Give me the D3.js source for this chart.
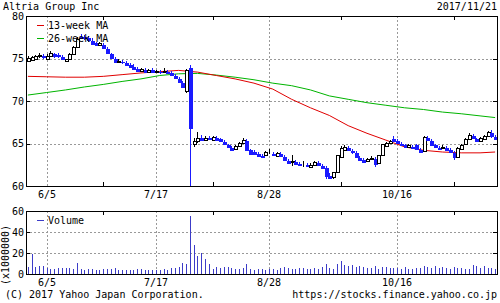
<!DOCTYPE html>
<html>
<head>
<meta charset="utf-8">
<script src="https://cdn.jsdelivr.net/npm/d3@7"></script>
<style>
  body { margin: 0; background: #fff; }
  svg { display: block; }
  text { font-family: "DejaVu Sans Mono", monospace; font-size: 10px; fill: #000; }
</style>
</head>
<body>
<div id="chart"></div>
<script>
// Altria Group Inc - daily candles with 13/26 week MA and volume

var dates = ["5/26","5/30","5/31","6/1","6/2",
  "6/5","6/6","6/7","6/8","6/9","6/12","6/13","6/14","6/15","6/16","6/19","6/20","6/21","6/22","6/23","6/26","6/27","6/28","6/29","6/30",
  "7/3","7/5","7/6","7/7","7/10","7/11","7/12","7/13","7/14","7/17","7/18","7/19","7/20","7/21","7/24","7/25","7/26","7/27","7/28","7/31",
  "8/1","8/2","8/3","8/4","8/7","8/8","8/9","8/10","8/11","8/14","8/15","8/16","8/17","8/18","8/21","8/22","8/23","8/24","8/25","8/28","8/29","8/30","8/31",
  "9/1","9/5","9/6","9/7","9/8","9/11","9/12","9/13","9/14","9/15","9/18","9/19","9/20","9/21","9/22","9/25","9/26","9/27","9/28","9/29",
  "10/2","10/3","10/4","10/5","10/6","10/9","10/10","10/11","10/12","10/13","10/16","10/17","10/18","10/19","10/20","10/23","10/24","10/25","10/26","10/27","10/30","10/31",
  "11/1","11/2","11/3","11/6","11/7","11/8","11/9","11/10","11/13","11/14","11/15","11/16","11/17","11/20","11/21"];

var opens = [74.8,74.9,75.0,75.3,75.4, 75.0,75.3,75.6,75.5,75.3,74.7,74.9,75.5,76.4,77.7,77.6,77.5,77.2,76.9,76.6,76.7,76.2,75.6,75.1,74.6,
  74.7,74.6,74.4,74.1,73.9,73.6,73.8,73.5,73.8,73.4,73.5,73.4,73.5,73.4,73.1,72.7,72.2,71.1,74.0,65.0,
  65.3,65.8,65.5,65.8,65.5,65.8,65.6,65.3,64.9,64.6,64.3,64.7,65.1,65.4,64.3,64.1,63.9,63.7,63.6,64.0,63.9,63.6,63.9,
  63.5,63.1,62.9,63.0,62.7,62.6,62.6,62.3,62.4,62.8,62.5,62.2,61.3,61.0,61.6,63.4,64.3,64.6,64.2,64.0,
  63.4,63.2,63.0,63.2,63.3,62.7,63.6,64.8,65.1,65.7,65.4,65.1,64.9,64.6,64.7,64.9,64.4,64.2,65.8,65.4,64.9,64.6,
  64.5,64.6,64.4,64.0,63.5,64.3,64.9,65.5,66.0,65.6,65.4,65.6,65.9,66.3,65.9];
var highs = [75.3,75.3,75.4,75.6,75.5, 75.5,75.9,75.7,75.6,75.4,75.0,75.7,76.5,77.5,77.9,77.8,77.7,77.4,77.0,76.9,76.8,76.3,75.7,75.2,74.9,
  74.8,74.7,74.5,74.3,74.0,73.9,73.9,73.8,73.9,73.7,73.6,73.9,73.6,73.5,73.2,72.8,72.3,73.8,74.2,65.6,
  66.4,66.0,65.9,65.9,65.9,65.9,65.7,65.4,65.0,64.7,64.8,65.2,65.6,65.5,64.4,64.2,64.0,63.8,64.1,64.3,64.0,64.0,64.0,
  63.6,63.2,63.6,63.1,62.8,62.9,62.7,62.7,62.9,62.9,62.6,62.3,61.5,61.7,63.7,64.7,64.8,64.7,64.4,64.1,
  63.5,63.3,63.3,63.5,63.4,63.7,65.0,65.2,65.4,65.9,65.5,65.2,65.0,64.9,64.8,65.0,64.5,65.9,65.9,65.5,65.0,64.7,
  64.8,64.7,64.5,64.1,64.6,64.9,65.6,66.2,66.1,65.7,65.8,66.0,66.5,66.6,66.0];
var lows = [74.6,74.7,74.9,75.1,75.0, 74.9,75.2,75.1,75.1,74.9,74.6,74.8,75.4,76.3,77.3,77.2,77.0,76.6,76.5,76.5,76.1,75.5,74.9,74.5,74.5,
  74.4,74.2,73.9,73.7,73.5,73.5,73.4,73.4,73.4,73.3,73.2,73.3,73.2,73.0,72.6,72.1,71.5,71.0,60.0,64.6,
  65.1,65.4,65.4,65.4,65.4,65.4,65.2,64.8,64.5,64.2,64.2,64.6,65.0,64.1,63.6,63.7,63.5,63.4,63.5,63.8,63.6,63.5,63.4,
  62.9,62.7,62.4,62.5,62.4,62.2,62.3,62.2,62.3,62.4,62.1,60.8,60.9,60.8,61.5,63.3,64.1,64.1,63.8,63.3,
  63.0,62.8,62.9,63.1,62.2,62.6,63.5,64.6,64.9,65.3,65.0,64.8,64.5,64.5,64.4,64.2,63.9,64.1,65.3,64.7,64.5,64.3,
  64.3,64.2,63.9,63.1,63.4,64.2,64.8,65.4,65.5,65.2,65.3,65.5,65.8,65.7,65.5];
var closes = [75.1,75.2,75.3,75.4,75.2, 75.3,75.7,75.2,75.3,75.0,74.9,75.5,76.3,77.3,77.5,77.4,77.2,76.7,76.6,76.8,76.2,75.6,75.0,74.6,74.7,
  74.6,74.3,74.0,73.8,73.6,73.8,73.5,73.7,73.5,73.5,73.4,73.5,73.3,73.1,72.7,72.2,71.6,73.6,66.8,65.3,
  65.6,65.5,65.7,65.6,65.8,65.5,65.3,64.9,64.6,64.3,64.7,65.1,65.4,64.2,63.7,63.8,63.6,63.5,64.0,64.0,63.7,63.9,63.5,
  63.0,62.8,63.0,62.6,62.5,62.6,62.4,62.5,62.8,62.5,62.2,61.2,61.0,61.6,63.6,64.5,64.6,64.2,64.0,63.4,
  63.1,62.9,63.2,63.3,62.6,63.6,64.9,65.1,65.3,65.4,65.1,64.9,64.6,64.8,64.5,64.3,64.1,65.8,65.4,64.8,64.6,64.4,
  64.6,64.3,64.0,63.4,64.5,64.8,65.5,66.0,65.6,65.3,65.7,65.9,66.4,65.8,65.6];
// volume in millions of shares
var volumes = [6.5,19,6.5,8,7.5, 5.5,5,5,5.5,5.5,5.5,6,5,10.5,4.5,4,4.5,4.5,4,4,5,4.5,5,5.5,3.5,
  3.5,4,4,4,5,4.5,4,4,3.5,4,4,4.5,4,5.5,6,6.5,10.5,10,55,27.5,
  17.5,20,14,9.5,5,6.5,5.5,6.5,7,6,5,4.5,6,10,5,4,4.5,5,3.5,4.5,5,4,5.5,
  6.5,6,5,4.5,5.5,6,5,4.5,5.5,4.5,7,9.5,5.5,5,10,12.5,9,8,8.5,6.5,
  7.5,6.5,5.5,6,7.5,5,6.5,7,5.5,6,5.5,5,6.5,5,4.5,5.5,6,8,6.5,6,7.5,6,
  6.5,5.5,5,7,6,5.5,4.5,5,9,7.5,5.5,8,5.5,6,4.5];

// moving averages, read once a week
var maDates = ["5/26","6/5","6/12","6/19","6/26","7/3","7/11","7/18","7/25","8/1","8/8","8/15","8/22","8/29","9/6","9/13","9/20","9/27","10/4","10/11","10/18","10/25","11/1","11/8","11/15","11/21"];
var ma13 = [72.9,72.85,72.8,72.8,72.9,73.1,73.3,73.45,73.6,73.4,73.0,72.6,72.1,71.4,70.2,69.2,68.3,67.1,66.2,65.4,64.6,64.2,64.0,63.9,63.9,64.0];
var ma26 = [70.7,71.0,71.3,71.65,71.95,72.3,72.6,73.0,73.2,73.25,73.05,72.8,72.5,72.1,71.8,71.3,70.6,70.2,69.8,69.5,69.2,69.0,68.7,68.5,68.25,68.05];

var priceTicks = [80, 75, 70, 65, 60];
var volTicks = [60, 40, 20, 0];
var labelDates = ["6/5", "7/17", "8/28", "10/16"];
var minorDates = ["6/26", "8/7", "9/25", "11/6"];

var W = 500, H = 303;
var left = 26, right = 497;
var pTop = 16, pBot = 186, vTop = 211, vBot = 274;
var upColor = "#000", downColor = "#1a1aff", volColor = "#3c3cc8";

var svg = d3.select("#chart").append("svg")
  .attr("width", W).attr("height", H)
  .attr("shape-rendering", "crispEdges");

var x = d3.scaleBand().domain(dates).range([left, right]).padding(0);
var cx = function (d) { return Math.round(x(d) + x.bandwidth() / 2); };
var yP = d3.scaleLinear().domain([60, 80]).range([pBot, pTop]);
var yV = d3.scaleLinear().domain([0, 60]).range([vBot, vTop]);

// titles
svg.append("text").attr("x", 3).attr("y", 10).text("Altria Group Inc");
svg.append("text").attr("x", 497).attr("y", 10).attr("text-anchor", "end").text("2017/11/21");

function panel(y, top, bot, ticks) {
  var g = svg.append("g");
  // horizontal dotted grid
  g.selectAll(".hg").data(ticks.filter(function (t) { return y(t) > top + 1 && y(t) < bot - 1; }))
    .enter().append("line")
    .attr("x1", left).attr("x2", right)
    .attr("y1", function (d) { return Math.round(y(d)) + 0.5; })
    .attr("y2", function (d) { return Math.round(y(d)) + 0.5; })
    .attr("stroke", "#999").attr("stroke-dasharray", "2,2");
  // vertical dotted grid at labelled dates
  g.selectAll(".vg").data(labelDates).enter().append("line")
    .attr("x1", function (d) { return cx(d) + 0.5; })
    .attr("x2", function (d) { return cx(d) + 0.5; })
    .attr("y1", top).attr("y2", bot)
    .attr("stroke", "#999").attr("stroke-dasharray", "2,2");
  // minor ticks top and bottom
  minorDates.forEach(function (d) {
    g.append("line").attr("x1", cx(d) + 0.5).attr("x2", cx(d) + 0.5)
      .attr("y1", top).attr("y2", top + 4).attr("stroke", "#000");
    g.append("line").attr("x1", cx(d) + 0.5).attr("x2", cx(d) + 0.5)
      .attr("y1", bot - 4).attr("y2", bot).attr("stroke", "#000");
  });
  // y ticks on both sides
  ticks.forEach(function (t) {
    var yy = Math.round(y(t)) + 0.5;
    g.append("line").attr("x1", left).attr("x2", left + 4).attr("y1", yy).attr("y2", yy).attr("stroke", "#000");
    g.append("line").attr("x1", right - 4).attr("x2", right).attr("y1", yy).attr("y2", yy).attr("stroke", "#000");
    g.append("text").attr("x", 24).attr("y", y(t) + 3.5).attr("text-anchor", "end").text(t);
  });
  // x labels under the panel
  g.selectAll(".xl").data(labelDates).enter().append("text")
    .attr("x", function (d) { return cx(d); })
    .attr("y", bot + 12)
    .attr("text-anchor", "middle")
    .text(function (d) { return d; });
  return g;
}

panel(yP, pTop, pBot, priceTicks);
panel(yV, vTop, vBot, volTicks);

// moving averages
var maLine = function (vals) {
  return d3.line()
    .x(function (d, i) { return x(maDates[i]) + x.bandwidth() / 2; })
    .y(function (d) { return yP(d); })(vals);
};
var maG = svg.append("g").attr("shape-rendering", "auto");
maG.append("path").attr("d", maLine(ma26)).attr("fill", "none").attr("stroke", "#00b400").attr("stroke-width", 1);
maG.append("path").attr("d", maLine(ma13)).attr("fill", "none").attr("stroke", "#e00000").attr("stroke-width", 1);

// candles
var candles = svg.append("g").selectAll("g").data(dates).enter().append("g");
candles.append("line")
  .attr("x1", function (d) { return cx(d) + 0.5; })
  .attr("x2", function (d) { return cx(d) + 0.5; })
  .attr("y1", function (d, i) { return yP(highs[i]); })
  .attr("y2", function (d, i) { return yP(lows[i]); })
  .attr("stroke", function (d, i) { return closes[i] >= opens[i] ? upColor : downColor; });
candles.append("rect")
  .attr("x", function (d, i) { return closes[i] >= opens[i] ? cx(d) - 1 + 0.5 : cx(d) - 1; })
  .attr("width", function (d, i) { return closes[i] >= opens[i] ? 3 : 4; })
  .attr("y", function (d, i) { return Math.round(yP(Math.max(opens[i], closes[i]))) + 0.5; })
  .attr("height", function (d, i) { return Math.max(0, Math.round(Math.abs(yP(opens[i]) - yP(closes[i])))); })
  .attr("fill", function (d, i) { return closes[i] >= opens[i] ? "#fff" : downColor; })
  .attr("stroke", function (d, i) { return closes[i] >= opens[i] ? upColor : "none"; });

// volume bars
svg.append("g").selectAll("line").data(dates).enter().append("line")
  .attr("x1", function (d) { return cx(d) + 0.5; })
  .attr("x2", function (d) { return cx(d) + 0.5; })
  .attr("y1", vBot)
  .attr("y2", function (d, i) { return yV(volumes[i]); })
  .attr("stroke", volColor);

// frames
[[pTop, pBot], [vTop, vBot]].forEach(function (p) {
  svg.append("rect").attr("x", left + 0.5).attr("y", p[0] + 0.5)
    .attr("width", right - left).attr("height", p[1] - p[0])
    .attr("fill", "none").attr("stroke", "#000");
});

// legends
var leg = [["13-week MA", "#e00000", 25], ["26-week MA", "#00b400", 38]];
leg.forEach(function (l) {
  svg.append("line").attr("x1", 37).attr("x2", 44).attr("y1", l[2] + 0.5).attr("y2", l[2] + 0.5).attr("stroke", l[1]);
  svg.append("text").attr("x", 48).attr("y", l[2] + 3.5).text(l[0]);
});
svg.append("line").attr("x1", 37).attr("x2", 44).attr("y1", 220.5).attr("y2", 220.5).attr("stroke", volColor);
svg.append("text").attr("x", 48).attr("y", 223.5).text("Volume");

svg.append("text").attr("transform", "translate(9,255) rotate(-90)")
  .attr("text-anchor", "middle").text("(x1000000)");

svg.append("text").attr("x", 5).attr("y", 298).text("(C) 2017 Yahoo Japan Corporation.");
svg.append("text").attr("x", 497).attr("y", 298).attr("text-anchor", "end").text("https://stocks.finance.yahoo.co.jp");
</script>
</body>
</html>
